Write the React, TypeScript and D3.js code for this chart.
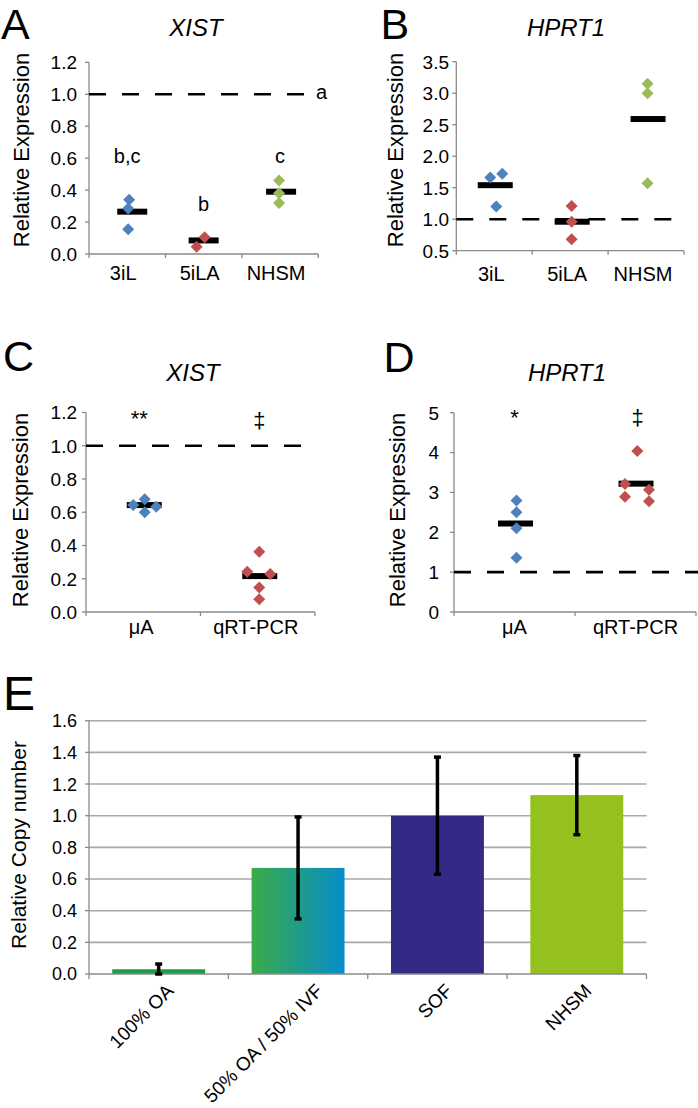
import React from 'react';
import * as d3 from 'd3';

const FONT = '"Liberation Sans", Arial, Helvetica, sans-serif';

// ---------- Panel A: XIST ----------
const catsAB = ['3iL', '5iLA', 'NHSM'];
const xistA_3iL = [0.34, 0.285, 0.155];
const xistA_5iLA = [0.105, 0.045];
const xistA_NHSM = [0.46, 0.38, 0.32];
const xistA_means = [0.265, 0.085, 0.39];
const xistA_letters = ['b,c', 'b', 'c'];
const xistA_refLetter = 'a';
const ticksA = [0, 0.2, 0.4, 0.6, 0.8, 1.0, 1.2];

// ---------- Panel B: HPRT1 ----------
const hprtB_3iL = [1.66, 1.72, 1.2];
const hprtB_5iLA = [1.21, 0.96, 0.68];
const hprtB_NHSM = [3.15, 3.0, 1.57];
const hprtB_means = [1.54, 0.96, 2.59];
const ticksB = [0.5, 1.0, 1.5, 2.0, 2.5, 3.0, 3.5];

// ---------- Panel C: XIST ----------
const catsCD = ['\u03BCA', 'qRT-PCR'];
const xistC_uA = [0.643, 0.678, 0.6, 0.633];
const xistC_qrt = [0.363, 0.242, 0.228, 0.148, 0.076];
const xistC_means = [0.643, 0.216];
const xistC_marks = ['**', '\u2021'];
const ticksC = [0, 0.2, 0.4, 0.6, 0.8, 1.0, 1.2];

// ---------- Panel D: HPRT1 ----------
const hprtD_uA = [2.8, 2.5, 2.1, 1.36];
const hprtD_qrt = [4.04, 3.21, 3.07, 2.89, 2.78];
const hprtD_means = [2.22, 3.22];
const hprtD_marks = ['*', '\u2021'];
const ticksD = [0, 1, 2, 3, 4, 5];

// ---------- Panel E: copy number ----------
const catsE = ['100% OA', '50% OA / 50% IVF', 'SOF', 'NHSM'];
const copyE = [0.03, 0.67, 1.0, 1.13];
const errE = [0.033, 0.322, 0.37, 0.25];
const ticksE = [0, 0.2, 0.4, 0.6, 0.8, 1.0, 1.2, 1.4, 1.6];

const BLUE = '#4F81BD';
const RED = '#C0504D';
const GREEN = '#9BBB59';
const AXIS = '#8a8a8a';

type DotProps = {
  letter: string; letterX: number; letterY: number;
  title: string; titleX: number; titleY: number;
  ylabelX: number; ylabelY: number;
  left: number; right: number; top: number; bottom: number;
  domain: [number, number]; ticks: number[]; fmt: (v: number) => string; tickLabelRight: number;
  cats: string[]; catLabelY: number; catDx: number;
  series: number[][]; colors: string[]; jitter: number[][];
  means: number[]; meanDx: number[]; meanW: number;
  refEnd: number;
  children?: (x: d3.ScaleBand<string>, y: d3.ScaleLinear<number, number>) => React.ReactNode;
};

function Diamond({ cx, cy, color }: { cx: number; cy: number; color: string }) {
  const r = 6;
  return <path d={`M${cx},${cy - r}L${cx + r},${cy}L${cx},${cy + r}L${cx - r},${cy}Z`} fill={color} />;
}

function DotPanel(p: DotProps) {
  const y = d3.scaleLinear().domain(p.domain).range([p.bottom, p.top]);
  const x = d3.scaleBand<string>().domain(p.cats).range([p.left, p.right]);
  const bounds = [...p.cats.map((c) => x(c) as number), p.right];
  return (
    <g>
      <text x={p.letterX} y={p.letterY} fontSize={43} fontFamily={FONT}>{p.letter}</text>
      <text x={p.titleX} y={p.titleY} fontSize={24} fontStyle="italic" textAnchor="middle" fontFamily={FONT}>{p.title}</text>
      <text transform={`translate(${p.ylabelX},${p.ylabelY}) rotate(-90)`} textAnchor="middle" dy="0.35em" fontSize={22} fontFamily={FONT}>Relative Expression</text>
      {/* y axis */}
      <line x1={p.left} x2={p.left} y1={p.top} y2={p.bottom} stroke={AXIS} strokeWidth={1.3} />
      {p.ticks.map((t) => (
        <g key={t}>
          <line x1={p.left - 4} x2={p.left} y1={y(t)} y2={y(t)} stroke={AXIS} strokeWidth={1.3} />
          <text x={p.tickLabelRight} y={y(t)} dy="0.36em" textAnchor="end" fontSize={19} fontFamily={FONT}>{p.fmt(t)}</text>
        </g>
      ))}
      {/* x axis */}
      <line x1={p.left} x2={p.right} y1={p.bottom} y2={p.bottom} stroke={AXIS} strokeWidth={1.3} />
      {bounds.map((b, i) => (
        <line key={i} x1={b} x2={b} y1={p.bottom} y2={p.bottom + 4} stroke={AXIS} strokeWidth={1.3} />
      ))}
      {p.cats.map((c) => (
        <text key={c} x={(x(c) as number) + x.bandwidth() / 2 + p.catDx} y={p.catLabelY} textAnchor="middle" fontSize={20} fontFamily={FONT}>{c}</text>
      ))}
      {/* reference dashed line */}
      <line x1={p.left} x2={p.refEnd} y1={y(1)} y2={y(1)} stroke="#000" strokeWidth={2.6} strokeDasharray="17,16" />
      {/* means */}
      {p.means.map((m, i) => {
        const cx = (x(p.cats[i]) as number) + x.bandwidth() / 2 + p.meanDx[i];
        return <rect key={i} x={cx - p.meanW / 2} y={y(m) - 3} width={p.meanW} height={6} fill="#000" />;
      })}
      {/* points */}
      {p.series.map((s, i) =>
        s.map((v, j) => (
          <Diamond key={`${i}-${j}`} cx={(x(p.cats[i]) as number) + x.bandwidth() / 2 + p.jitter[i][j]} cy={y(v)} color={p.colors[i]} />
        ))
      )}
      {p.children && p.children(x, y)}
    </g>
  );
}

const labelDxE = [16, 26, 16, 16];

function PanelE() {
  const left = 89, right = 646.5, top = 720.7, bottom = 974;
  const y = d3.scaleLinear().domain([0, 1.6]).range([bottom, top]);
  const x = d3.scaleBand<string>().domain(catsE).range([left, right]).paddingInner(1 / 3).paddingOuter(1 / 6);
  const step = x.step();
  const fills = ['#1e9a4c', 'url(#gradE)', '#322a85', '#95c11f'];
  return (
    <g>
      <defs>
        <linearGradient id="gradE" x1="0" x2="1" y1="0" y2="0">
          <stop offset="0" stopColor="#3aab47" />
          <stop offset="1" stopColor="#068dca" />
        </linearGradient>
      </defs>
      <text x={3} y={710} fontSize={48} fontFamily={FONT}>E</text>
      <text transform={`translate(19,845) rotate(-90)`} textAnchor="middle" dy="0.35em" fontSize={21} fontFamily={FONT}>Relative Copy number</text>
      {ticksE.map((t) => (
        <g key={t}>
          {t > 0 && <line x1={left} x2={right} y1={y(t)} y2={y(t)} stroke="#a8a8a8" strokeWidth={1.6} />}
          <line x1={left - 4} x2={left} y1={y(t)} y2={y(t)} stroke={AXIS} strokeWidth={1.3} />
          <text x={77} y={y(t)} dy="0.36em" textAnchor="end" fontSize={18} fontFamily={FONT}>{t.toFixed(1)}</text>
        </g>
      ))}
      <line x1={left} x2={left} y1={top} y2={bottom} stroke={AXIS} strokeWidth={1.3} />
      {copyE.map((v, i) => {
        const bx = x(catsE[i]) as number;
        return <rect key={i} x={bx} y={y(v)} width={x.bandwidth()} height={bottom - y(v)} fill={fills[i]} />;
      })}
      <line x1={left} x2={right} y1={bottom} y2={bottom} stroke={AXIS} strokeWidth={1.5} />
      {catsE.map((c, i) => (
        <line key={i} x1={left + i * step} x2={left + i * step} y1={bottom} y2={bottom + 5} stroke={AXIS} strokeWidth={1.3} />
      ))}
      <line x1={right} x2={right} y1={bottom} y2={bottom + 5} stroke={AXIS} strokeWidth={1.3} />
      {copyE.map((v, i) => {
        const cx = (x(catsE[i]) as number) + x.bandwidth() / 2;
        const hi = y(v + errE[i]);
        const lo = y(Math.max(0, v - errE[i]));
        return (
          <g key={i}>
            <line x1={cx} x2={cx} y1={hi} y2={lo} stroke="#000" strokeWidth={3.5} />
            <line x1={cx - 3.5} x2={cx + 3.5} y1={hi} y2={hi} stroke="#000" strokeWidth={3.5} />
            <line x1={cx - 3.5} x2={cx + 3.5} y1={lo} y2={lo} stroke="#000" strokeWidth={3.5} />
          </g>
        );
      })}
      {catsE.map((c, i) => {
        const cx = (x(c) as number) + x.bandwidth() / 2;
        return (
          <text key={c} transform={`translate(${cx + labelDxE[i]},${bottom + 18}) rotate(-45)`} textAnchor="end" fontSize={19} fontFamily={FONT}>{c}</text>
        );
      })}
    </g>
  );
}

export default function App() {
  const f1 = (v: number) => v.toFixed(1);
  const f0 = (v: number) => v.toFixed(0);
  return (
    <svg width={698} height={1108} style={{ position: 'absolute', left: 0, top: 0, background: '#fff' }} fontFamily={FONT}>
      <rect width={698} height={1108} fill="#fff" />
      <DotPanel
        letter="A" letterX={1} letterY={39} title="XIST" titleX={196} titleY={36}
        ylabelX={21} ylabelY={150}
        left={89} right={318.3} top={62.3} bottom={254} domain={[0, 1.2]} ticks={ticksA} fmt={f1} tickLabelRight={77}
        cats={catsAB} catLabelY={280} catDx={-4}
        series={[xistA_3iL, xistA_5iLA, xistA_NHSM]} colors={[BLUE, RED, GREEN]}
        jitter={[[2, 1, 1], [1, -7], [-1, -1, -1]]}
        means={xistA_means} meanDx={[5, 0, 1]} meanW={30} refEnd={310}
      >
        {(x, y) => (
          <g fontSize={20} fontFamily={FONT} textAnchor="middle">
            {xistA_letters.map((l, i) => (
              <text key={i} x={(x(catsAB[i]) as number) + x.bandwidth() / 2} y={y(i === 1 ? 0.27 : 0.567)}>{l}</text>
            ))}
            <text x={316} y={y(1) + 5} textAnchor="start">{xistA_refLetter}</text>
          </g>
        )}
      </DotPanel>
      <DotPanel
        letter="B" letterX={380.5} letterY={39} title="HPRT1" titleX={566} titleY={36}
        ylabelX={395.5} ylabelY={150}
        left={456.3} right={684} top={61.7} bottom={250.7} domain={[0.5, 3.5]} ticks={ticksB} fmt={f1} tickLabelRight={449}
        cats={catsAB} catLabelY={281} catDx={-3}
        series={[hprtB_3iL, hprtB_5iLA, hprtB_NHSM]} colors={[BLUE, RED, GREEN]}
        jitter={[[-4, 8, 2], [1.5, 1.5, 1.5], [1.5, 1.5, 1.5]]}
        means={hprtB_means} meanDx={[1, 2, 2]} meanW={35} refEnd={674}
      />
      <DotPanel
        letter="C" letterX={3} letterY={371} title="XIST" titleX={193} titleY={381}
        ylabelX={20} ylabelY={510}
        left={86} right={315} top={412.5} bottom={612} domain={[0, 1.2]} ticks={ticksC} fmt={f1} tickLabelRight={77}
        cats={catsCD} catLabelY={634} catDx={-2}
        series={[xistC_uA, xistC_qrt]} colors={[BLUE, RED]}
        jitter={[[-10, 1.5, 1.5, 13], [1.5, -10.5, 12.5, 1.5, 1.5]]}
        means={xistC_means} meanDx={[1, 2]} meanW={35} refEnd={305}
      >
        {(x, y) => (
          <g fontSize={22} fontFamily={FONT} textAnchor="middle">
            <text x={(x(catsCD[0]) as number) + x.bandwidth() / 2 - 4} y={426}>{xistC_marks[0]}</text>
            <text x={(x(catsCD[1]) as number) + x.bandwidth() / 2 + 1.5} y={428}>{xistC_marks[1]}</text>
          </g>
        )}
      </DotPanel>
      <DotPanel
        letter="D" letterX={383.5} letterY={372} title="HPRT1" titleX={567} titleY={381}
        ylabelX={397} ylabelY={510}
        left={454} right={696} top={412.7} bottom={612} domain={[0, 5]} ticks={ticksD} fmt={f0} tickLabelRight={439}
        cats={catsCD} catLabelY={634} catDx={0}
        series={[hprtD_uA, hprtD_qrt]} colors={[BLUE, RED]}
        jitter={[[2, 2, 2, 2], [1.8, -10.5, 13.5, -10.5, 13.5]]}
        means={hprtD_means} meanDx={[1, 0.5]} meanW={35} refEnd={698}
      >
        {(x, y) => (
          <g fontSize={22} fontFamily={FONT} textAnchor="middle">
            <text x={(x(catsCD[0]) as number) + x.bandwidth() / 2} y={425}>{hprtD_marks[0]}</text>
            <text x={(x(catsCD[1]) as number) + x.bandwidth() / 2 + 2} y={424.5}>{hprtD_marks[1]}</text>
          </g>
        )}
      </DotPanel>
      <PanelE />
    </svg>
  );
}
